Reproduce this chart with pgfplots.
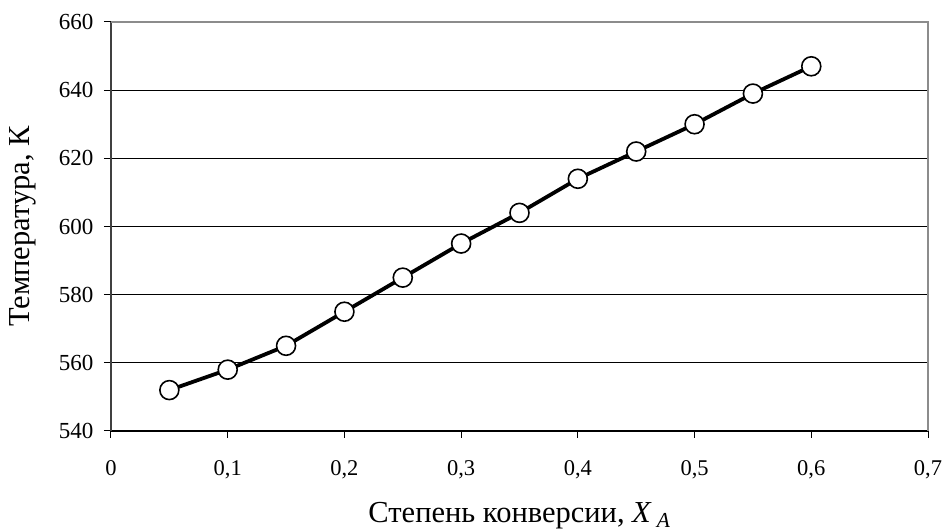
\documentclass[border=0pt]{standalone}
\usepackage{fontspec}
\setmainfont{Liberation Serif}
\usepackage{pgfplots}
\pgfplotsset{compat=1.18}

\begin{document}
\begin{tikzpicture}
\begin{axis}[
    scale only axis,
    width=817pt, height=409pt,
    xmin=0, xmax=0.7, ymin=540, ymax=660,
    axis lines*=left,
    x axis line style={black, line width=1.6pt},
    y axis line style={black!75, line width=1.6pt},
    xtick={0,0.1,...,0.7},
    ytick={540,560,...,660},
    tick align=outside,
    major tick length=7pt,
    tick style={black, line width=1pt},
    ymajorgrids,
    grid style={black, line width=0.9pt},
    /pgf/number format/assume math mode=true,
    /pgf/number format/use comma,
    /pgf/number format/fixed,
    xticklabel style={/pgf/number format/precision=1, font=\fontsize{22.5}{26}\selectfont, yshift=-19pt},
    yticklabel style={font=\fontsize{23}{26}\selectfont, xshift=-7pt},
    xlabel={Степень конверсии, \textit{X}\,\textsubscript{\textit{A}}},
    ylabel={Температура, К},
    label style={font=\fontsize{30.5}{35}\selectfont},
    xlabel style={yshift=-16pt},
    ylabel style={yshift=16pt},
    clip=false,
]
\draw[black!45, line width=1.6pt] (rel axis cs:0,1) -- (rel axis cs:1,1) -- (rel axis cs:1,0);
\addplot[black, line width=3.8pt, mark=*, mark size=9.5pt,
    mark options={fill=white, draw=black, line width=1.6pt}]
  coordinates {
    (0.05,552) (0.10,558) (0.15,565) (0.20,575) (0.25,585) (0.30,595)
    (0.35,604) (0.40,614) (0.45,622) (0.50,630) (0.55,639) (0.60,647)
  };
\end{axis}
\pgfresetboundingbox
\path (current axis.south west) ++(-111pt,-101pt) rectangle ++(942pt,532pt);
\end{tikzpicture}
\end{document}
